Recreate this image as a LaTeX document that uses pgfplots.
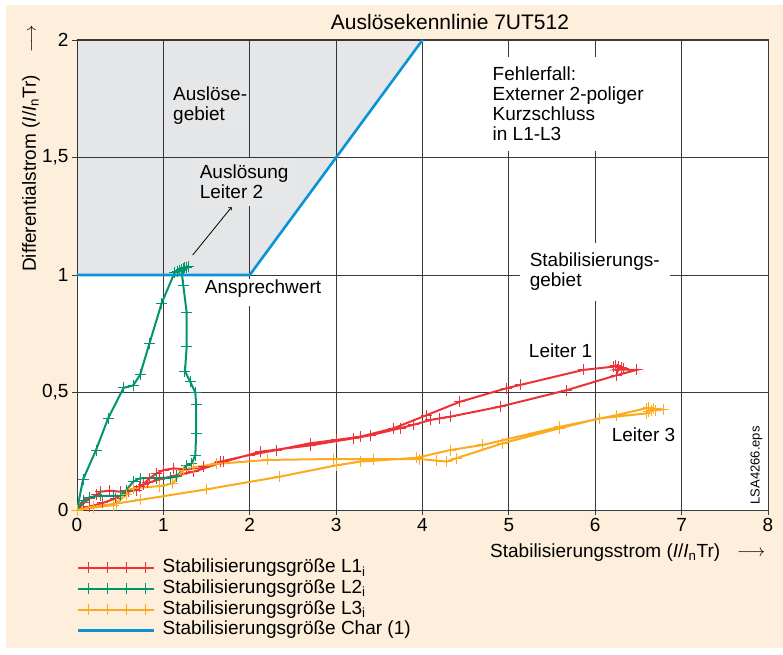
\documentclass[border=0pt]{standalone}
\usepackage{fontspec}
\setmainfont{Liberation Sans}
\usepackage{pgfplots}
\pgfplotsset{compat=1.18}
\definecolor{cream}{HTML}{FDEFDB}
\definecolor{greyc}{HTML}{E6E7E8}
\definecolor{greyt}{RGB}{5,15,25}
\definecolor{gridc}{HTML}{3A3A3A}
\definecolor{cred}{HTML}{EC3237}
\definecolor{cgreen}{HTML}{00956F}
\definecolor{corange}{HTML}{FBAB1C}
\definecolor{cblue}{HTML}{0A94D6}
\begin{document}
\begin{tikzpicture}[font=\fontsize{19}{20}\selectfont]
\fill[white] (0,0) rectangle (783pt,654pt);
\fill[cream] (6pt,6pt) rectangle (783pt,649pt);
\begin{axis}[
  at={(77pt,144pt)}, anchor=south west,
  scale only axis, width=691pt, height=470pt,
  xmin=0, xmax=8, ymin=0, ymax=2,
  xtick={0,1,2,3,4,5,6,7,8},
  ytick={0,0.5,1,1.5,2},
  yticklabels={0,{0,5},1,{1,5},2},
  tick pos=left, tick align=outside, major tick length=5pt,
  grid=major,
  major grid style={color=gridc, line width=0.8pt},
  axis line style={color=gridc, line width=1pt},
  every tick/.style={color=gridc, line width=0.8pt},
  tick label style={font=\fontsize{19}{20}\selectfont},
  /pgf/number format/assume math mode=true,
  axis background/.style={fill=white},
  legend style={at={(0,-0.103)}, anchor=north west, draw=none, fill=none,
    inner sep=0pt, outer sep=0pt, row sep=1.8pt, column sep=0pt,
    nodes={inner sep=0pt, text height=14pt, text depth=5pt},
    font=\fontsize{19}{20}\selectfont},
  legend cell align=left,
  legend image code/.code={
    \draw[mark repeat=1, #1, mark=none] plot coordinates {(0pt,0pt) (76pt,0pt)};
    \draw[mark repeat=1, #1, only marks] plot coordinates {(10pt,0pt) (29pt,0pt) (48pt,0pt) (67pt,0pt)};
    \path (83pt,0pt);
  },
]
\addplot[fill=greyt, fill opacity=0.1, draw=none, forget plot]
  coordinates {(0,1) (2,1) (4,2) (0,2) (0,1)};

\addplot[color=cred, line width=2pt, mark=+, mark size=5.5pt, mark options={line width=1pt}]
coordinates {
(0,0) (0.08,0.03) (0.15,0.05) (0.23,0.064) (0.27,0.078) (0.38,0.082) (0.5,0.078) (0.6,0.08)
(0.69,0.085) (0.77,0.11) (0.84,0.135) (0.92,0.155) (1.0,0.17) (1.12,0.177) (1.27,0.173)
(1.47,0.184) (1.66,0.206) (2.0,0.234) (2.31,0.255) (2.70,0.284) (3.0,0.298) (3.28,0.312)
(3.66,0.347) (4.05,0.404) (4.43,0.46) (4.97,0.518) (5.13,0.532) (5.86,0.596) (6.21,0.61)
(6.24,0.615) (6.27,0.612) (6.3,0.608) (6.33,0.603) (6.26,0.598) (6.48,0.596) (6.25,0.574)
(5.67,0.51) (4.90,0.44) (4.32,0.397) (4.20,0.39) (4.09,0.383) (3.89,0.362) (3.74,0.348)
(3.4,0.318) (3.2,0.305) (2.7,0.275) (2.12,0.248) (1.7,0.205) (1.35,0.163) (1.15,0.148)
(0.95,0.13) (0.82,0.115) (0.72,0.1) (0.6,0.08) (0.45,0.05) (0.3,0.03) (0.15,0.015) (0,0)
};
\addlegendentry{Stabilisierungsgröße L1\textsubscript{i}}

\addplot[color=cgreen, line width=2pt, mark=+, mark size=5.5pt, mark options={line width=1pt}]
coordinates {
(0,0) (0.07,0.13) (0.22,0.255) (0.36,0.39) (0.54,0.52) (0.65,0.53) (0.73,0.575) (0.84,0.71)
(0.98,0.88) (1.13,1.01) (1.16,1.015) (1.19,1.02) (1.21,1.024) (1.23,1.028) (1.25,1.031)
(1.27,1.034) (1.29,1.038) (1.21,1.02) (1.23,0.957) (1.27,0.84) (1.27,0.695) (1.25,0.59)
(1.31,0.546) (1.37,0.50) (1.38,0.447) (1.38,0.327) (1.37,0.234) (1.33,0.199) (1.27,0.19)
(1.15,0.142) (1.08,0.137) (0.92,0.136) (0.73,0.135) (0.65,0.12) (0.57,0.085) (0.50,0.06)
(0.42,0.06) (0.27,0.06) (0.15,0.055) (0.07,0.04) (0,0)
};
\addlegendentry{Stabilisierungsgröße L2\textsubscript{i}}

\addplot[color=corange, line width=2pt, mark=+, mark size=5.5pt, mark options={line width=1pt}]
coordinates {
(0,0) (0.19,0.01) (0.42,0.021) (0.57,0.064) (0.65,0.092) (0.96,0.102) (1.11,0.113)
(1.23,0.17) (1.35,0.182) (1.61,0.196) (2.2,0.213) (2.97,0.217) (3.43,0.217) (3.97,0.217)
(4.16,0.21) (4.28,0.206) (4.39,0.22) (4.93,0.284) (5.59,0.348) (6.05,0.39) (6.59,0.411)
(6.62,0.418) (6.65,0.425) (6.68,0.43) (6.62,0.436) (6.7,0.424) (6.79,0.428) (6.59,0.433)
(6.25,0.404) (5.59,0.354) (4.70,0.277) (4.32,0.255) (3.93,0.222) (3.28,0.206) (3.0,0.19)
(2.35,0.142) (1.5,0.088) (0.73,0.043) (0.46,0.028) (0.19,0.014) (0,0)
};
\addlegendentry{Stabilisierungsgröße L3\textsubscript{i}}

\addplot[color=cblue, line width=2.6pt, mark=none]
coordinates {(0,1) (2,1) (4,2)};
\addlegendentry{Stabilisierungsgröße Char (1)}

\node[fill=greyc, inner sep=1pt, align=left, anchor=north west] at (axis cs:1.1,1.805) {Auslöse-\\gebiet};
\node[fill=greyc, inner xsep=8pt, inner ysep=7pt, align=left, anchor=north west] at (axis cs:1.327,1.498) {Auslösung\\Leiter 2};
\draw[->, line width=0.8pt, black] (axis cs:1.34,1.085) -- (axis cs:1.79,1.289);
\node[fill=white, inner xsep=6pt, inner ysep=1pt, text depth=11pt, anchor=base west] at (axis cs:1.41,0.92) {Ansprechwert};
\node[fill=white, inner sep=10pt, align=left, anchor=north west] at (axis cs:4.694,1.93) {Fehlerfall:\\Externer 2-poliger\\Kurzschluss\\in L1-L3};
\node[fill=white, inner sep=10pt, align=left, anchor=north west] at (axis cs:5.124,1.137) {Stabilisierungs-\\gebiet};
\node[inner sep=0pt, anchor=west] at (axis cs:5.23,0.678) {Leiter 1};
\node[inner sep=0pt, anchor=west] at (axis cs:6.19,0.319) {Leiter 3};
\node[rotate=90, inner sep=0pt, font=\fontsize{13}{13}\selectfont] at (axis cs:7.865,0.19) {LSA4266.eps};
\end{axis}
\node[font=\fontsize{21}{22}\selectfont] at (450pt,632pt) {Auslösekennlinie 7UT512};
\node[rotate=90, anchor=west, inner sep=0pt] at (31pt,382pt) {Differentialstrom (\textit{I}/\textit{I}\textsubscript{n}Tr)\hspace{22pt}$\longrightarrow$};
\node[anchor=west, inner sep=0pt] at (490pt,101pt) {Stabilisierungsstrom (\textit{I}/\textit{I}\textsubscript{n}Tr)};
\node[anchor=west, inner sep=0pt] at (737pt,101pt) {$\longrightarrow$};
\end{tikzpicture}
\end{document}
